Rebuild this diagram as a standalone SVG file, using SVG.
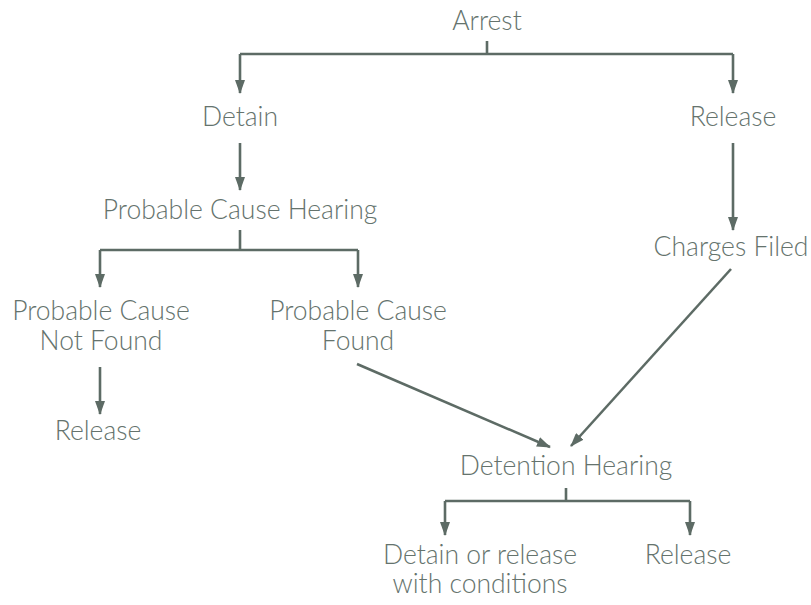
<svg xmlns="http://www.w3.org/2000/svg" width="811" height="605" viewBox="0 0 811 605">
<defs>
<marker id="ah" viewBox="0 0 14 10" refX="13" refY="5" markerWidth="14" markerHeight="10" markerUnits="userSpaceOnUse" orient="auto">
<path d="M0,0 L14,5 L0,10 Z" fill="#5d6b65"/>
</marker>
</defs>
<style>
text{font-family:"Lato","Open Sans",sans-serif;font-size:26.5px;font-weight:300;fill:#65736d;text-anchor:middle}
.c{fill:none;stroke:#5d6b65;stroke-width:2.6}
</style>
<rect width="811" height="605" fill="#ffffff"/>
<g id="connectors">
<path class="c" d="M487,41 V54 M240,54 H733"/>
<path class="c" d="M240,54 V93" marker-end="url(#ah)"/>
<path class="c" d="M733,54 V93" marker-end="url(#ah)"/>
<path class="c" d="M240,143 V190" marker-end="url(#ah)"/>
<path class="c" d="M733,143 V230" marker-end="url(#ah)"/>
<path class="c" d="M240,230 V250 M100,250 H358"/>
<path class="c" d="M100,250 V287" marker-end="url(#ah)"/>
<path class="c" d="M358,250 V287" marker-end="url(#ah)"/>
<path class="c" d="M100,367 V414" marker-end="url(#ah)"/>
<path class="c" d="M357,364 L550,447" marker-end="url(#ah)"/>
<path class="c" d="M731,269 L571,446" marker-end="url(#ah)"/>
<path class="c" d="M566,488 V501 M445,501 H690"/>
<path class="c" d="M445,501 V535" marker-end="url(#ah)"/>
<path class="c" d="M690,501 V535" marker-end="url(#ah)"/>
</g>
<g id="arrest"><text x="487" y="30">Arrest</text></g>
<g id="detain"><text x="240" y="126">Detain</text></g>
<g id="release-top"><text x="733" y="126">Release</text></g>
<g id="pch"><text x="240" y="219">Probable Cause Hearing</text></g>
<g id="charges"><text x="731" y="256">Charges Filed</text></g>
<g id="pc-not-found"><text x="101" y="320">Probable Cause</text><text x="101" y="350">Not Found</text></g>
<g id="pc-found"><text x="358" y="320">Probable Cause</text><text x="358" y="350">Found</text></g>
<g id="release-left"><text x="98" y="440">Release</text></g>
<g id="detention-hearing"><text x="566" y="475">Detention Hearing</text></g>
<g id="detain-or-release"><text x="480" y="564">Detain or release</text><text x="480" y="593">with conditions</text></g>
<g id="release-bottom"><text x="688" y="564">Release</text></g>
</svg>
